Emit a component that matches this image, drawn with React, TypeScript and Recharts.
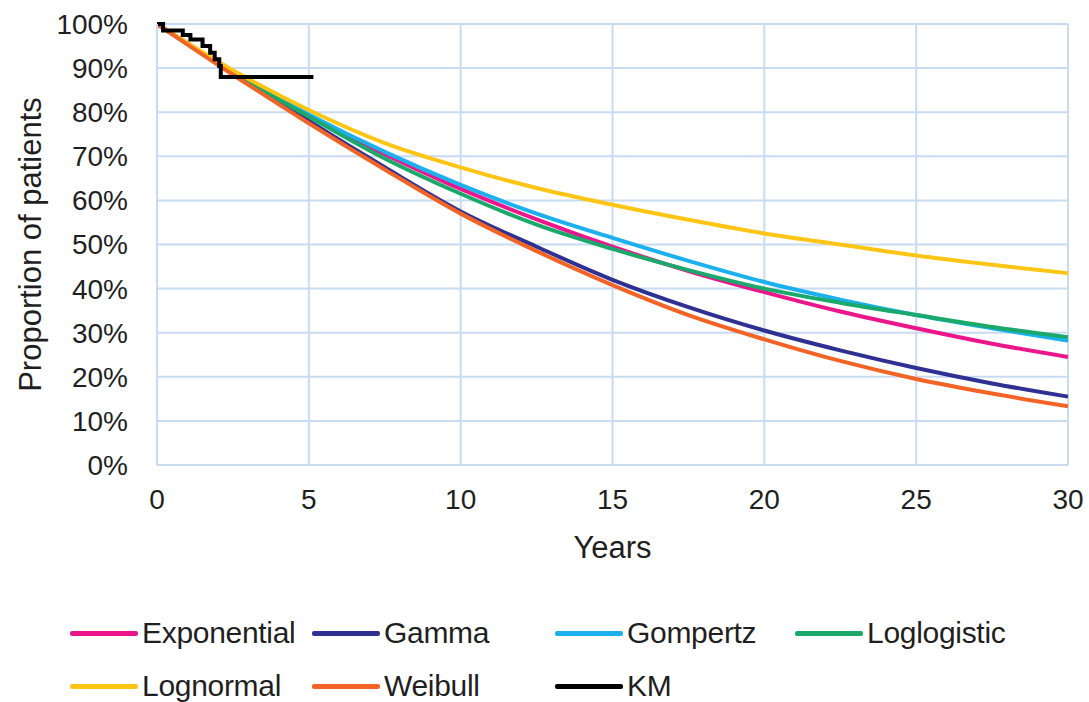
import React from 'react';
import { LineChart, Line, XAxis, YAxis, CartesianGrid, Legend } from 'recharts';

const years = [0, 2.5, 5, 7.5, 10, 12.5, 15, 17.5, 20, 22.5, 25, 27.5, 30];
const exponential = [100, 89, 79, 70.5, 62.6, 55.7, 49.5, 44, 39.2, 34.8, 31, 27.5, 24.5];
const gamma = [100, 89, 78, 67.5, 57.5, 49.5, 42, 35.8, 30.5, 26, 22, 18.5, 15.5];
const gompertz = [100, 89, 79.5, 71, 63.5, 57, 51.5, 46.3, 41.5, 37.5, 34, 31, 28.2];
const loglogistic = [100, 89, 79, 69.5, 61.5, 54.5, 49, 44.2, 40, 36.8, 34, 31.3, 29];
const lognormal = [100, 89.5, 80.5, 73, 67.5, 62.8, 59, 55.6, 52.5, 50, 47.5, 45.4, 43.5];
const weibull = [100, 88.5, 77.5, 67, 57, 48.5, 40.8, 34, 28.5, 23.6, 19.5, 16.2, 13.3];

const kmYears = [0, 0.2, 0.85, 1.1, 1.5, 1.75, 1.9, 2.05, 2.1, 5.15];
const kmValues = [100, 98.5, 97.5, 96.5, 95, 93.5, 92, 90.5, 88, 88];

const xTicks = [0, 5, 10, 15, 20, 25, 30];
const yTicks = [0, 10, 20, 30, 40, 50, 60, 70, 80, 90, 100];

const toData = (xs: number[], vs: number[]) => xs.map((t, i) => ({ t, v: vs[i] }));

const series = [
  { name: 'Exponential', values: exponential, color: '#ec168c' },
  { name: 'Gamma', values: gamma, color: '#2e3192' },
  { name: 'Gompertz', values: gompertz, color: '#1cb1ee' },
  { name: 'Loglogistic', values: loglogistic, color: '#1aa96b' },
  { name: 'Lognormal', values: lognormal, color: '#ffc515' },
  { name: 'Weibull', values: weibull, color: '#f26325' },
];

const legendItems = [
  { name: 'Exponential', color: '#ec168c', col: 0, row: 0 },
  { name: 'Gamma', color: '#2e3192', col: 1, row: 0 },
  { name: 'Gompertz', color: '#1cb1ee', col: 2, row: 0 },
  { name: 'Loglogistic', color: '#1aa96b', col: 3, row: 0 },
  { name: 'Lognormal', color: '#ffc515', col: 0, row: 1 },
  { name: 'Weibull', color: '#f26325', col: 1, row: 1 },
  { name: 'KM', color: '#000000', col: 2, row: 1 },
];

const FONT = '"Liberation Sans", Arial, sans-serif';
const TEXT = '#1f1f1f';
const GRID = '#c8dbf2';

const colX = [70, 312, 555, 795];

const LegendContent = () => (
  <div style={{ position: 'relative', width: 1089, height: 90, fontFamily: FONT }}>
    {legendItems.map((it) => (
      <div
        key={it.name}
        style={{
          position: 'absolute',
          left: colX[it.col],
          top: it.row * 53,
          height: 36,
          display: 'flex',
          alignItems: 'center',
        }}
      >
        <div style={{ width: 68, height: 5, background: it.color, borderRadius: 2 }} />
        <span style={{ marginLeft: 4, fontSize: 30, color: TEXT, whiteSpace: 'nowrap', letterSpacing: -0.3 }}>{it.name}</span>
      </div>
    ))}
  </div>
);

export default function App() {
  return (
    <div style={{ position: 'absolute', left: 0, top: 0, width: 1089, height: 702, background: '#fff' }}>
      <LineChart
        width={1089}
        height={702}
        margin={{ top: 24, right: 21, left: 0, bottom: 147 }}
        style={{ fontFamily: FONT }}
      >
        <CartesianGrid stroke={GRID} strokeWidth={2} />
        <XAxis
          type="number"
          dataKey="t"
          domain={[0, 30]}
          ticks={xTicks}
          allowDuplicatedCategory={false}
          height={90}
          tickSize={0}
          tickMargin={24}
          axisLine={{ stroke: GRID, strokeWidth: 2 }}
          tickLine={false}
          tick={{ fontSize: 28, fill: TEXT, fontFamily: FONT }}
          label={{
            content: (props: any) => {
              const vb = props.viewBox || {};
              return (
                <text x={vb.x + vb.width / 2} y={558} textAnchor="middle" fontSize={31} fill={TEXT} fontFamily={FONT}>
                  Years
                </text>
              );
            },
          }}
        />
        <YAxis
          type="number"
          domain={[0, 100]}
          ticks={yTicks}
          width={157}
          tickSize={0}
          tickMargin={29}
          axisLine={{ stroke: GRID, strokeWidth: 2 }}
          tickLine={false}
          tickFormatter={(v: number) => `${v}%`}
          tick={{ fontSize: 28, fill: TEXT, fontFamily: FONT }}
          label={{
            content: (props: any) => {
              const vb = props.viewBox || {};
              const cy = vb.y + vb.height / 2;
              return (
                <text
                  x={30}
                  y={cy}
                  transform={`rotate(-90, 30, ${cy})`}
                  textAnchor="middle"
                  dominantBaseline="central"
                  fontSize={31}
                  fill={TEXT}
                  fontFamily={FONT}
                >
                  Proportion of patients
                </text>
              );
            },
          }}
        />
        {series.map((s) => (
          <Line
            key={s.name}
            data={toData(years, s.values)}
            dataKey="v"
            name={s.name}
            type="monotone"
            stroke={s.color}
            strokeWidth={4}
            dot={false}
            isAnimationActive={false}
          />
        ))}
        <Line
          data={toData(kmYears, kmValues)}
          dataKey="v"
          name="KM"
          type="stepAfter"
          stroke="#000000"
          strokeWidth={4}
          dot={false}
          isAnimationActive={false}
        />
        <Legend
          layout="horizontal"
          verticalAlign="middle"
          align="center"
          content={<LegendContent />}
          wrapperStyle={{ position: 'absolute', left: 0, top: 615, width: 1089, height: 90 }}
        />
      </LineChart>
    </div>
  );
}
